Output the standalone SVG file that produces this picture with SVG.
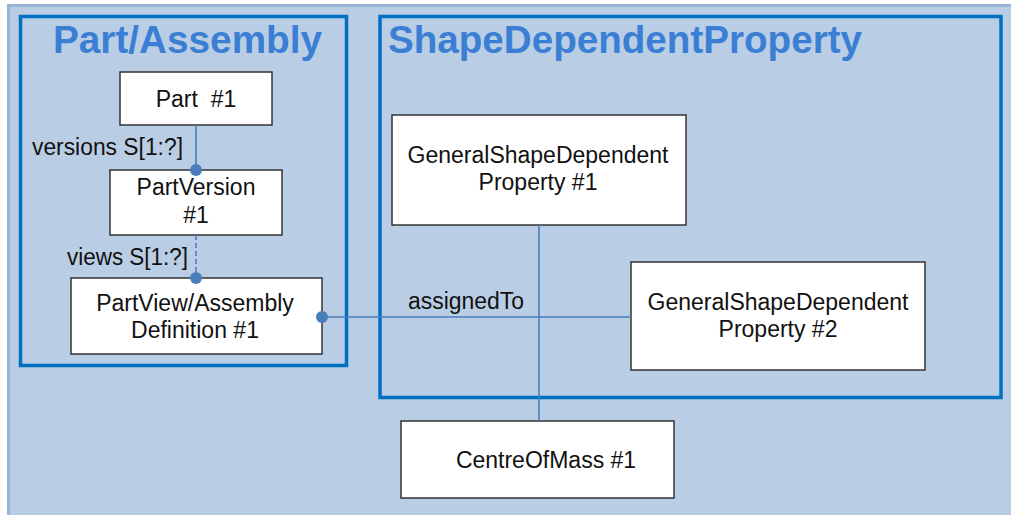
<svg xmlns="http://www.w3.org/2000/svg" width="1011" height="515" viewBox="0 0 1011 515">
<style>
  .node rect { fill: #ffffff; stroke: #333333; stroke-width: 1.5; }
  .node text, .lbl { font-family: "Liberation Sans", Arial, sans-serif; font-size: 23px; fill: #111111; text-anchor: middle; }
  .lbl { text-anchor: start; }
  .cont { fill: none; stroke: #0070c0; stroke-width: 3.5; }
  .title { font-family: "Liberation Sans", Arial, sans-serif; font-weight: bold; font-size: 38.5px; fill: #3a7fd4; }
  .conn { stroke: #4a7ebb; stroke-width: 1.6; fill: none; }
  .dot { fill: #4a7ebb; }
</style>
<rect x="0" y="0" width="1011" height="515" fill="#ffffff"/>
<rect x="8.5" y="5.5" width="1010" height="520" fill="#b9cde5" stroke="#98b4d8" stroke-width="3"/>

<g id="container-part-assembly">
  <rect class="cont" x="20.5" y="16.5" width="326" height="349"/>
  <text class="title" x="53" y="53" textLength="269" lengthAdjust="spacingAndGlyphs">Part/Assembly</text>
</g>
<g id="container-shape-dependent-property">
  <rect class="cont" x="380" y="16.5" width="621" height="381"/>
  <text class="title" x="388" y="53" textLength="474" lengthAdjust="spacingAndGlyphs">ShapeDependentProperty</text>
</g>

<g id="node-part" class="node">
  <rect x="120" y="72" width="152" height="53"/>
  <text x="196" y="107" xml:space="preserve">Part  #1</text>
</g>
<g id="node-partversion" class="node">
  <rect x="110" y="170" width="172" height="65"/>
  <text x="196" y="195">PartVersion</text>
  <text x="196" y="223">#1</text>
</g>
<g id="node-partview" class="node">
  <rect x="71" y="278" width="251" height="76"/>
  <text x="195" y="311">PartView/Assembly</text>
  <text x="195" y="338">Definition #1</text>
</g>
<g id="node-gsdp1" class="node">
  <rect x="392" y="115" width="294" height="110"/>
  <text x="538" y="163">GeneralShapeDependent</text>
  <text x="538" y="190">Property #1</text>
</g>
<g id="node-gsdp2" class="node">
  <rect x="631" y="262" width="294" height="108"/>
  <text x="778" y="310">GeneralShapeDependent</text>
  <text x="778" y="337">Property #2</text>
</g>
<g id="node-centreofmass" class="node">
  <rect x="401" y="421" width="273" height="77"/>
  <text x="546" y="468">CentreOfMass #1</text>
</g>

<g id="connectors">
  <line class="conn" x1="196" y1="125" x2="196" y2="170"/>
  <line class="conn" x1="196" y1="235" x2="196" y2="278" stroke-dasharray="5,3"/>
  <line class="conn" x1="322" y1="317" x2="631" y2="317"/>
  <line class="conn" x1="539" y1="225" x2="539" y2="421"/>
  <circle class="dot" cx="196" cy="170" r="6"/>
  <circle class="dot" cx="196" cy="278" r="6"/>
  <circle class="dot" cx="322" cy="317" r="6"/>
  <text class="lbl" x="32" y="155" textLength="151" lengthAdjust="spacingAndGlyphs">versions S[1:?]</text>
  <text class="lbl" x="67" y="265" textLength="121" lengthAdjust="spacingAndGlyphs">views S[1:?]</text>
  <text class="lbl" x="408" y="309" textLength="116" lengthAdjust="spacingAndGlyphs">assignedTo</text>
</g>
</svg>
